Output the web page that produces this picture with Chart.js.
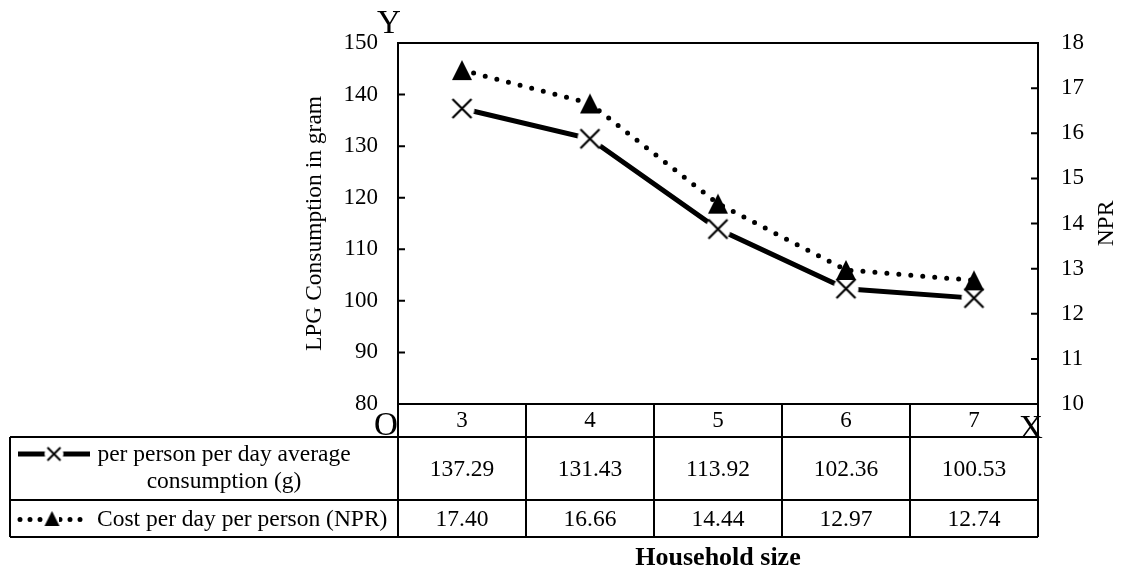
<!DOCTYPE html>
<html>
<head>
<meta charset="utf-8">
<script src="https://cdn.jsdelivr.net/npm/chart.js@4"></script>
<style>
  body { margin: 0; background: #fff; }
  #wrap { width: 1128px; height: 569px; position: relative; }
</style>
</head>
<body>
<div id="wrap"><canvas id="chart"></canvas></div>
<script>
const categories = ["3", "4", "5", "6", "7"];
const consumption = [137.29, 131.43, 113.92, 102.36, 100.53];
const cost = [17.40, 16.66, 14.44, 12.97, 12.74];
const series_names = [
  ["per person per day average", "consumption (g)"],
  ["Cost per day per person (NPR)"],
];
const left_title = "LPG Consumption in gram";
const right_title = "NPR";
const x_title = "Household size";

const serif = '"Liberation Serif", "Times New Roman", serif';

// marker images
function makeCross(size, lw) {
  const c = document.createElement("canvas");
  c.width = size + 8;
  c.height = size + 8;
  const g = c.getContext("2d");
  const m = c.width / 2;
  g.fillStyle = "#fff";
  g.beginPath();
  g.arc(m, m, size / 2 + 3, 0, Math.PI * 2);
  g.fill();
  g.strokeStyle = "#000";
  g.lineWidth = lw;
  g.beginPath();
  g.moveTo(m - size / 2, m - size / 2);
  g.lineTo(m + size / 2, m + size / 2);
  g.moveTo(m + size / 2, m - size / 2);
  g.lineTo(m - size / 2, m + size / 2);
  g.stroke();
  return c;
}

function makeTriangle(size) {
  const c = document.createElement("canvas");
  c.width = size + 4;
  c.height = size + 4;
  const g = c.getContext("2d");
  g.fillStyle = "#000";
  g.beginPath();
  g.moveTo(c.width / 2, 2);
  g.lineTo(c.width - 2, c.height - 2);
  g.lineTo(2, c.height - 2);
  g.closePath();
  g.fill();
  return c;
}

const crossImg = makeCross(19, 2.2);
const triImg = makeTriangle(20);
const crossSmall = makeCross(13, 2);
const triSmall = makeTriangle(15);

const tablePlugin = {
  id: "tablePlugin",
  afterDraw(chart) {
    const ctx = chart.ctx;
    const a = chart.chartArea;
    const L = a.left, R = a.right, T = a.top, B = a.bottom;
    const xs = chart.scales.x;
    const r1 = B + 33, r2 = B + 96, tb = B + 133, tl = 10;

    ctx.save();
    ctx.strokeStyle = "#000";
    ctx.lineWidth = 2;
    ctx.strokeRect(L, T, R - L, B - T);

    ctx.beginPath();
    ctx.moveTo(L, B); ctx.lineTo(L, tb);
    ctx.moveTo(R, B); ctx.lineTo(R, tb);
    [r1, r2, tb].forEach(function (y) {
      ctx.moveTo(tl, y); ctx.lineTo(R, y);
    });
    ctx.moveTo(tl, r1); ctx.lineTo(tl, tb);
    for (let i = 0; i < categories.length - 1; i++) {
      const bx = (xs.getPixelForValue(i) + xs.getPixelForValue(i + 1)) / 2;
      ctx.moveTo(bx, B); ctx.lineTo(bx, tb);
    }
    ctx.stroke();

    // inner tick marks
    const ys = chart.scales.y, ys1 = chart.scales.y1;
    ctx.beginPath();
    ys.ticks.forEach(function (t) {
      const py = ys.getPixelForValue(t.value);
      ctx.moveTo(L, py); ctx.lineTo(L + 7, py);
    });
    ys1.ticks.forEach(function (t) {
      const py = ys1.getPixelForValue(t.value);
      ctx.moveTo(R, py); ctx.lineTo(R - 7, py);
    });
    ctx.stroke();

    // table values
    ctx.fillStyle = "#000";
    ctx.font = "23.5px " + serif;
    ctx.textAlign = "center";
    ctx.textBaseline = "middle";
    for (let i = 0; i < categories.length; i++) {
      const px = xs.getPixelForValue(i);
      ctx.fillText(consumption[i].toFixed(2), px, (r1 + r2) / 2 + 1);
      ctx.fillText(cost[i].toFixed(2), px, (r2 + tb) / 2 + 1);
    }

    // row legends
    ctx.fillText(series_names[0][0], 224, r1 + 18);
    ctx.fillText(series_names[0][1], 224, r1 + 45);
    ctx.textAlign = "left";
    ctx.fillText(series_names[1][0], 97, (r2 + tb) / 2 + 1);

    ctx.lineWidth = 5;
    ctx.beginPath();
    ctx.moveTo(18, r1 + 17); ctx.lineTo(90, r1 + 17);
    ctx.stroke();
    ctx.drawImage(crossSmall, 54 - crossSmall.width / 2, r1 + 17 - crossSmall.height / 2);

    ctx.lineWidth = 5;
    ctx.lineCap = "round";
    ctx.setLineDash([0, 10]);
    ctx.beginPath();
    ctx.moveTo(20, (r2 + tb) / 2 + 1); ctx.lineTo(90, (r2 + tb) / 2 + 1);
    ctx.stroke();
    ctx.setLineDash([]);
    ctx.fillStyle = "#fff";
    ctx.fillRect(45, r2 + 8, 14, 20);
    ctx.drawImage(triSmall, 52 - triSmall.width / 2, (r2 + tb) / 2 - triSmall.height / 2);

    // titles
    ctx.fillStyle = "#000";
    ctx.textAlign = "center";
    ctx.save();
    ctx.translate(315, (T + B) / 2);
    ctx.rotate(-Math.PI / 2);
    ctx.fillText(left_title, 0, 0);
    ctx.restore();
    ctx.save();
    ctx.translate(1107, (T + B) / 2);
    ctx.rotate(-Math.PI / 2);
    ctx.fillText(right_title, 0, 0);
    ctx.restore();

    ctx.font = "bold 26px " + serif;
    ctx.fillText(x_title, (L + R) / 2, 558);

    ctx.font = "33px " + serif;
    ctx.fillText("Y", L - 9, 24);
    ctx.fillText("O", L - 12, B + 22);
    ctx.fillText("X", R - 7, B + 25);
    ctx.restore();
  },
};

const tickFont = { family: serif, size: 23 };

const config = {
  type: "line",
  data: {
    labels: categories,
    datasets: [
      {
        label: series_names[1].join(" "),
        data: cost,
        yAxisID: "y1",
        borderColor: "#000",
        borderWidth: 5,
        borderDash: [0, 12],
        borderCapStyle: "round",
        pointStyle: triImg,
        tension: 0,
        order: 1,
      },
      {
        label: series_names[0].join(" "),
        data: consumption,
        yAxisID: "y",
        borderColor: "#000",
        borderWidth: 5,
        pointStyle: crossImg,
        tension: 0,
        order: 2,
      },
    ],
  },
  options: {
    responsive: true,
    maintainAspectRatio: false,
    animation: false,
    events: [],
    layout: { padding: { top: 43, left: 0, right: 0, bottom: 0 } },
    plugins: { legend: { display: false }, tooltip: { enabled: false } },
    scales: {
      x: {
        offset: true,
        grid: { display: false, drawTicks: false },
        border: { display: false },
        ticks: { font: tickFont, color: "#000", padding: 3 },
        afterFit: function (s) { s.height = 165; },
      },
      y: {
        position: "left",
        min: 80,
        max: 150,
        grid: { display: false, drawTicks: false },
        border: { display: false },
        ticks: { stepSize: 10, font: tickFont, color: "#000", padding: 20 },
        afterFit: function (s) { s.width = 398; },
      },
      y1: {
        position: "right",
        min: 10,
        max: 18,
        grid: { display: false, drawTicks: false },
        border: { display: false },
        ticks: { stepSize: 1, font: tickFont, color: "#000", padding: 23 },
        afterFit: function (s) { s.width = 90; },
      },
    },
  },
  plugins: [tablePlugin],
};

new Chart(document.getElementById("chart"), config);
</script>
</body>
</html>
